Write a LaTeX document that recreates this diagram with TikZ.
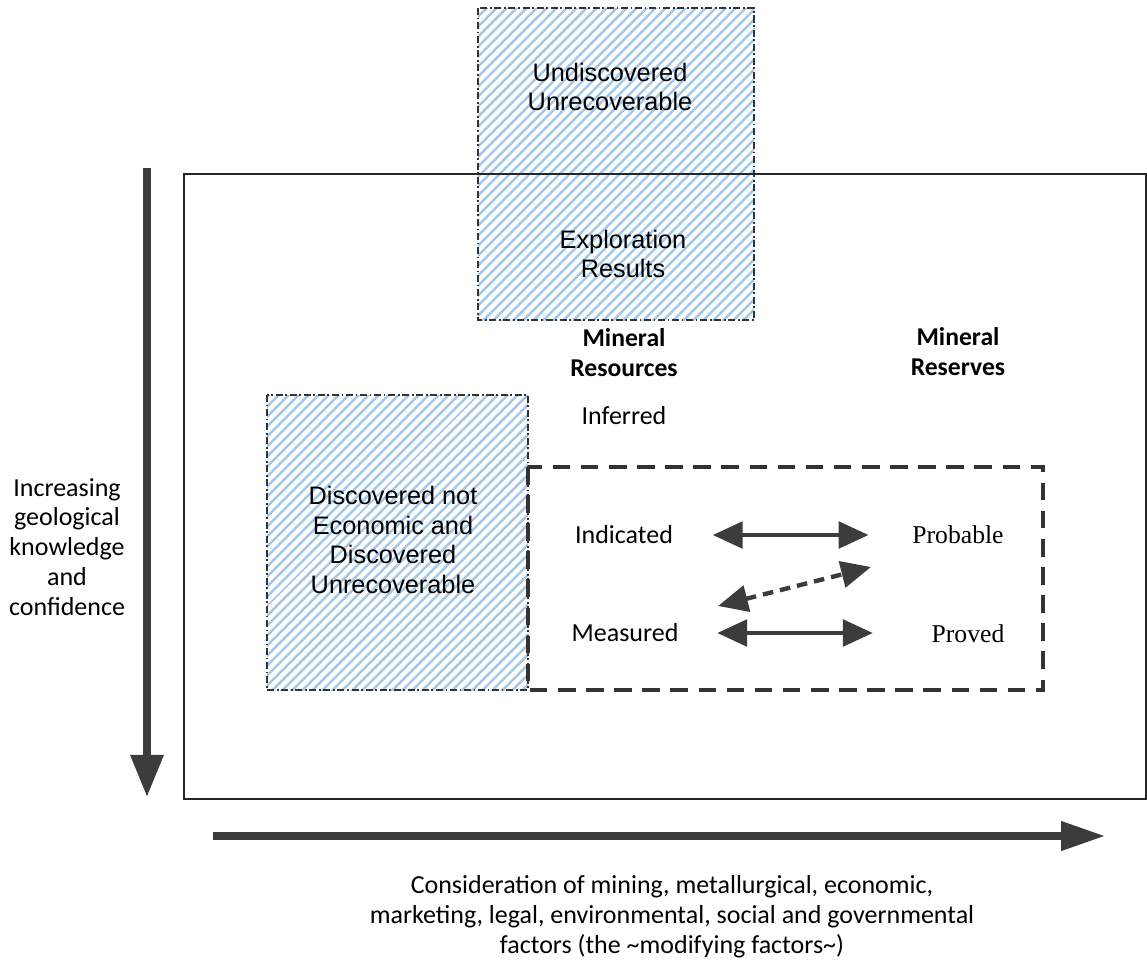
\documentclass[tikz,border=0pt]{standalone}
\usepackage{fontspec}
\setmainfont{Carlito}
\newfontfamily\arialfont{Liberation Sans}
\newfontfamily\timesfont{Liberation Serif}
\usetikzlibrary{arrows.meta,patterns.meta,positioning}
\definecolor{hatchblue}{HTML}{A3C8EA}
\definecolor{arrowgray}{HTML}{3C3C3C}

\begin{document}
\begin{tikzpicture}[x=0.02cm,y=-0.02cm]
  \tikzset{hatchbox/.style = {draw=black!80, line width=0.6pt, dash pattern=on 4pt off 1.5pt on 1pt off 1.5pt, pattern={Lines[angle=45,distance=4pt,line width=1.4pt]}, pattern color=hatchblue}}
  \tikzset{frame/.style = {draw=black!85, line width=1.2pt}}
  \tikzset{resbox/.style = {draw=black!80, line width=2pt, dash pattern=on 10pt off 6pt}}
  \tikzset{txt/.style = {align=center, font=\fontsize{14.8}{17}\selectfont, inner sep=2pt}}
  \tikzset{boxtxt/.style = {align=center, font=\arialfont\fontsize{14.4}{17}\selectfont, inner sep=2pt}}
  \tikzset{restxt/.style = {align=center, font=\timesfont\fontsize{14.6}{17}\selectfont, inner sep=2pt}}
  \tikzset{bigarrow/.style = {draw=arrowgray, line width=4.5pt, -{Triangle[length=24pt,width=18pt]}}}
  \tikzset{linkarrow/.style = {draw=arrowgray, line width=2.5pt, {Triangle[length=17pt,width=15pt]}-{Triangle[length=17pt,width=15pt]}}}

  \useasboundingbox (0,0) rectangle (1147,964);

  % boxes
  \draw[hatchbox] (478,8) rectangle (754,320);
  \draw[hatchbox] (267,395) rectangle (528,690);
  \draw[frame] (184,174) rectangle (1146,799);
  \draw[resbox] (528,467) rectangle (1043,690);

  % labels
  \node[boxtxt] (undisc) at (610,87) {Undiscovered\\Unrecoverable};
  \node[boxtxt] (explo) at (623,254) {Exploration\\Results};
  \node[boxtxt] (notecon) at (393,540) {Discovered not\\Economic and\\Discovered\\Unrecoverable};
  \node[txt, font=\bfseries\fontsize{14.6}{17}\selectfont] (resources) at (624,353) {Mineral\\Resources};
  \node[txt, font=\bfseries\fontsize{14.6}{17}\selectfont] (reserves) at (958,352) {Mineral\\Reserves};
  \node[txt] (inferred) at (624,416) {Inferred};
  \node[txt] (indicated) at (624,535) {Indicated};
  \node[txt] (measured) at (625,633) {Measured};
  \node[restxt] (probable) at (958,535) {Probable};
  \node[restxt] (proved) at (968,634) {Proved};
  \node[txt] (confidence) at (67,547) {Increasing\\geological\\knowledge\\and\\confidence};
  \node[txt] (modifying) at (672,917) {Consideration of mining, metallurgical, economic,\\marketing, legal, environmental, social and governmental\\factors (the \char`\~modifying factors\char`\~)};

  % axes
  \coordinate (vtop) at (147,168);
  \coordinate (vbot) at (147,797);
  \coordinate (hleft) at (213,836);
  \coordinate (hright) at (1105,836);
  \draw[bigarrow] (vtop) -- (vbot);
  \draw[bigarrow, line width=4pt, -{Triangle[length=25pt,width=16pt]}] (hleft) -- (hright);

  % conversions
  \foreach \from/\to/\a/\b in {indicated/probable/0.72/0.8, measured/proved/0.7/1.1}
    \draw[linkarrow, shorten <=\a cm, shorten >=\b cm] (\from.east |- \from) -- (\to.west |- \from);

  \coordinate (dlow) at (718,606);
  \coordinate (dhigh) at (871,567);
  \draw[linkarrow, dash pattern=on 6pt off 4pt] (dlow) -- (dhigh);

\end{tikzpicture}
\end{document}
